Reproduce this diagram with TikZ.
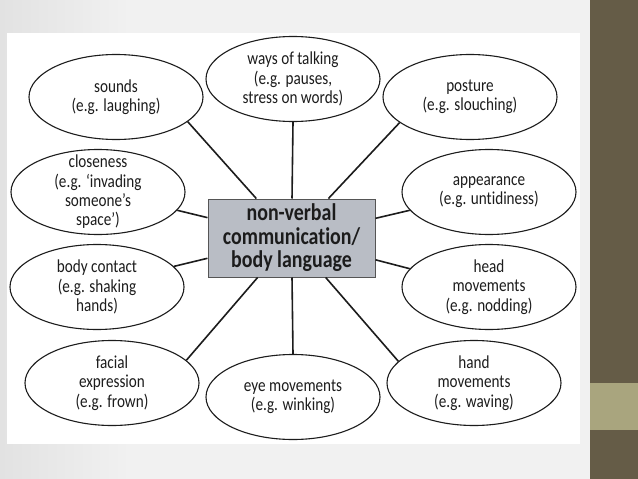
\documentclass[tikz,border=0pt]{standalone}
\usepackage{fontspec}
\setmainfont{Carlito}[FakeStretch=0.83, Ligatures=NoCommon]
\usetikzlibrary{shapes.geometric}
\definecolor{slidebg}{HTML}{F1F1F1}
\definecolor{slidegray}{HTML}{E2E2E2}
\definecolor{olive}{HTML}{655C47}
\definecolor{olivelight}{HTML}{A9A57E}
\definecolor{boxfill}{HTML}{B9BDC5}
\definecolor{boxline}{HTML}{555555}
\definecolor{ink}{HTML}{1C1C1C}
\tikzset{
  bub/.style={ellipse, draw=ink, line width=1.1pt, fill=white, minimum width=174pt, minimum height=85pt, inner sep=0pt},
  txt/.style={align=center, text=ink, font=\fontsize{18.3}{19.3}\selectfont, inner sep=0pt},
  hub/.style={draw=boxline, fill=boxfill, line width=1pt, minimum width=167pt, minimum height=78pt, align=center, text=ink, font=\bfseries\fontsize{24}{23.5}\selectfont, inner sep=0pt},
  conn/.style={draw=ink, line width=1.6pt}
}
\begin{document}
\begin{tikzpicture}[x=1pt,y=-1pt]
\useasboundingbox (0,0) rectangle (638,479);
% slide background
\fill[slidebg] (0,0) rectangle (638,479);
\shade[left color=slidegray, right color=slidebg] (0,0) rectangle (130,479);
\fill[white] (7,33) rectangle (580,444);
\fill[olive] (590,0) rectangle (638,479);
\fill[olivelight] (590,383) rectangle (638,430);
% hub
\node[hub] (c) at (291.5,238) {non-verbal\\communication/\\body language};
% bubbles
\node[bub, label={[txt]center:{ways of talking\\(e.g. pauses,\\stress on words)}}] (talk) at (293,79) {};
\node[bub, label={[txt]center:{sounds\\(e.g. laughing)}}] (sounds) at (116,97) {};
\node[bub, label={[txt]center:{posture\\(e.g. slouching)}}] (posture) at (470,97) {};
\node[bub, label={[txt]center:{closeness\\(e.g. ‘invading\\someone’s\\space’)}}] (close) at (98,192) {};
\node[bub, label={[txt]center:{appearance\\(e.g. untidiness)}}] (appear) at (489,192) {};
\node[bub, label={[txt]center:{body contact\\(e.g. shaking\\hands)}}] (contact) at (97,287) {};
\node[bub, label={[txt]center:{head\\movements\\(e.g. nodding)}}] (head) at (489,287) {};
\node[bub, label={[txt]center:{facial\\expression\\(e.g. frown)}}] (facial) at (112,383) {};
\node[bub, label={[txt]center:{eye movements\\(e.g. winking)}}] (eye) at (293,397) {};
\node[bub, label={[txt]center:{hand\\movements\\(e.g. waving)}}] (hand) at (474,383) {};
% connectors
\draw[conn] (c) -- (talk.-90);
\draw[conn] (c) -- (sounds.-19);
\draw[conn] (c) -- (posture.200);
\draw[conn] (c) -- (close.-13);
\draw[conn] (c) -- (appear.193);
\draw[conn] (c) -- (contact.15);
\draw[conn] (c) -- (head.167);
\draw[conn] (c) -- (facial.17);
\draw[conn] (c) -- (eye.90);
\draw[conn] (c) -- (hand.164);
\end{tikzpicture}
\end{document}
